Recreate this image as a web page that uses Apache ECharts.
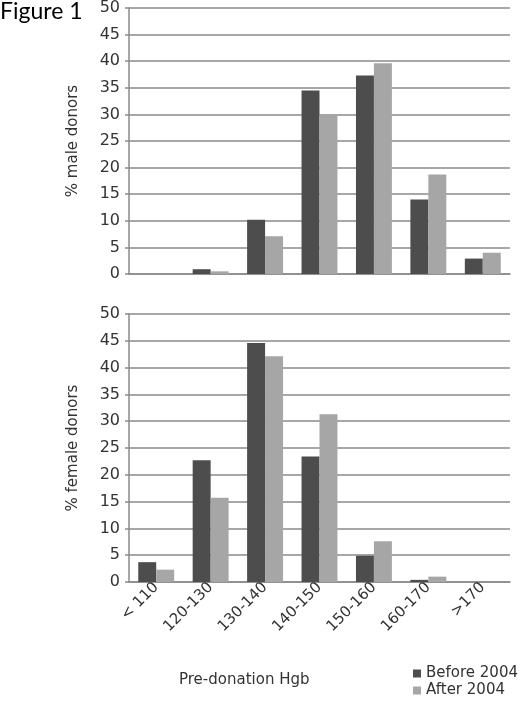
<!DOCTYPE html>
<html>
<head>
<meta charset="utf-8">
<script src="https://cdn.jsdelivr.net/npm/echarts@6/dist/echarts.min.js"></script>
<style>
  html, body { margin: 0; padding: 0; background: #fff; }
  #chart { width: 520px; height: 705px; }
</style>
</head>
<body>
<div id="chart"></div>
<script>
// categories of pre-donation Hgb
var categories = ['< 110', '120-130', '130-140', '140-150', '150-160', '160-170', '>170'];
// % male donors
var maleBefore = [0, 0.9, 10.2, 34.5, 37.3, 14.0, 2.9];
var maleAfter = [0, 0.5, 7.1, 30.0, 39.6, 18.7, 4.0];
// % female donors
var femaleBefore = [3.7, 22.7, 44.6, 23.4, 4.9, 0.4, 0];
var femaleAfter = [2.3, 15.7, 42.1, 31.3, 7.6, 1.0, 0];

var FONT = 'DejaVu Sans';
var DARK = '#4d4d4d', LIGHT = '#a6a6a6', LINE = '#8a8a8a', TEXT = '#333';

function xAx(idx, showLabels) {
  return {
    type: 'category', gridIndex: idx, data: categories,
    axisLine: { lineStyle: { color: LINE, width: 1.5 } },
    axisTick: { length: 4, lineStyle: { color: LINE, width: 1.5 } },
    axisLabel: showLabels ? { rotate: 45, margin: 3, fontFamily: FONT, fontSize: 15, color: TEXT } : { show: false }
  };
}
function yAx(idx, name) {
  return {
    type: 'value', gridIndex: idx, min: 0, max: 50, interval: 5,
    name: name, nameLocation: 'middle', nameGap: 48, nameRotate: 90,
    nameTextStyle: { fontFamily: FONT, fontSize: 15, color: TEXT },
    axisLine: { show: true, lineStyle: { color: LINE, width: 1.5 } },
    axisTick: { show: true, length: 4, lineStyle: { color: LINE, width: 1.5 } },
    axisLabel: { margin: 9, fontFamily: FONT, fontSize: 16, color: TEXT },
    splitLine: { lineStyle: { color: LINE, width: 1.5 } }
  };
}
function bar(name, data, idx, color) {
  return {
    type: 'bar', name: name, data: data, xAxisIndex: idx, yAxisIndex: idx,
    itemStyle: { color: color }, barGap: '0%', barCategoryGap: '34%'
  };
}

var chart = echarts.init(document.getElementById('chart'));
chart.setOption({
  animation: false,
  title: { text: 'Figure 1', left: 0, top: 0, textStyle: { fontFamily: 'Lato', fontSize: 23, fontWeight: 'normal', color: '#000' }, padding: 0 },
  grid: [
    { left: 129, right: 10, top: 6, height: 268 },
    { left: 129, right: 10, top: 314, height: 268 }
  ],
  xAxis: [xAx(0, false), xAx(1, true)],
  yAxis: [yAx(0, '% male donors'), yAx(1, '% female donors')],
  legend: {
    data: ['Before 2004', 'After 2004'], orient: 'vertical', left: 408, top: 661,
    icon: 'rect', itemWidth: 8, itemHeight: 8, itemGap: 2,
    textStyle: { fontFamily: FONT, fontSize: 15, color: TEXT }
  },
  graphic: [{
    type: 'text', left: 179, top: 673,
    style: { text: 'Pre-donation Hgb', font: '15px "DejaVu Sans"', fill: TEXT }
  }],
  series: [
    bar('Before 2004', maleBefore, 0, DARK),
    bar('After 2004', maleAfter, 0, LIGHT),
    bar('Before 2004', femaleBefore, 1, DARK),
    bar('After 2004', femaleAfter, 1, LIGHT)
  ]
});
</script>
</body>
</html>
